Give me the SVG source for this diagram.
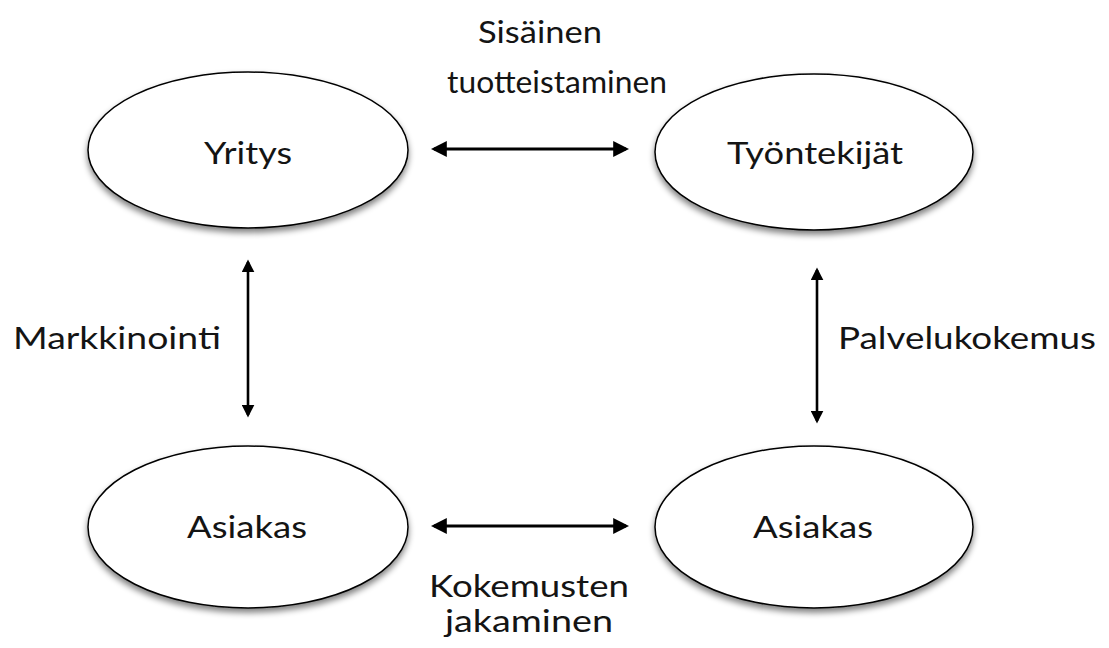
<svg xmlns="http://www.w3.org/2000/svg" width="1109" height="648" viewBox="0 0 1109 648">
<style>
.node ellipse{fill:#fff;stroke:#000;stroke-width:1.5;filter:url(#sh)}
text{font-family:Lato,"Open Sans","Liberation Sans",sans-serif;font-size:31px;fill:#141414;text-anchor:middle}
.c line{stroke:#000;stroke-width:3.2;marker-start:url(#ah);marker-end:url(#ah)}
.c line.v{stroke-width:2.6}
</style>
<defs>
<filter id="sh" x="-10%" y="-10%" width="120%" height="130%">
<feGaussianBlur in="SourceAlpha" stdDeviation="3"/>
<feOffset dx="0" dy="4" result="b"/>
<feComponentTransfer><feFuncA type="linear" slope="0.5"/></feComponentTransfer>
<feMerge><feMergeNode/><feMergeNode in="SourceGraphic"/></feMerge>
</filter>
<marker id="ah" viewBox="0 0 10 10" refX="8" refY="5" markerWidth="5" markerHeight="5" orient="auto-start-reverse" markerUnits="strokeWidth">
<path d="M0,0 L10,5 L0,10 Z" fill="#000"/>
</marker>
</defs>
<rect width="1109" height="648" fill="#fff"/>
<g id="yritys" class="node"><ellipse cx="248" cy="150" rx="160" ry="78"/><text x="248" y="164" textLength="88" lengthAdjust="spacingAndGlyphs">Yritys</text></g>
<g id="tyontekijat" class="node"><ellipse cx="814" cy="152" rx="159" ry="78"/><text x="815" y="164" textLength="176" lengthAdjust="spacingAndGlyphs">Työntekijät</text></g>
<g id="asiakas1" class="node"><ellipse cx="248" cy="527" rx="160" ry="81"/><text x="247" y="538" textLength="120" lengthAdjust="spacingAndGlyphs">Asiakas</text></g>
<g id="asiakas2" class="node"><ellipse cx="814" cy="527" rx="159" ry="81"/><text x="813" y="538" textLength="120" lengthAdjust="spacingAndGlyphs">Asiakas</text></g>
<g id="connectors" class="c">
<line x1="434" y1="149" x2="626" y2="149"/>
<line x1="434" y1="526" x2="626" y2="526"/>
<line class="v" x1="248" y1="262" x2="248" y2="415"/>
<line class="v" x1="817" y1="270" x2="817" y2="421"/>
</g>
<g id="labels">
<text x="540" y="43" textLength="124" lengthAdjust="spacingAndGlyphs">Sisäinen</text>
<text x="557" y="93" textLength="220" lengthAdjust="spacingAndGlyphs">tuotteistaminen</text>
<text x="117" y="349" textLength="208" lengthAdjust="spacingAndGlyphs">Markkinointi</text>
<text x="967" y="349" textLength="258" lengthAdjust="spacingAndGlyphs">Palvelukokemus</text>
<text x="529" y="597" textLength="200" lengthAdjust="spacingAndGlyphs">Kokemusten</text>
<text x="529" y="632" textLength="168" lengthAdjust="spacingAndGlyphs">jakaminen</text>
</g>
</svg>
